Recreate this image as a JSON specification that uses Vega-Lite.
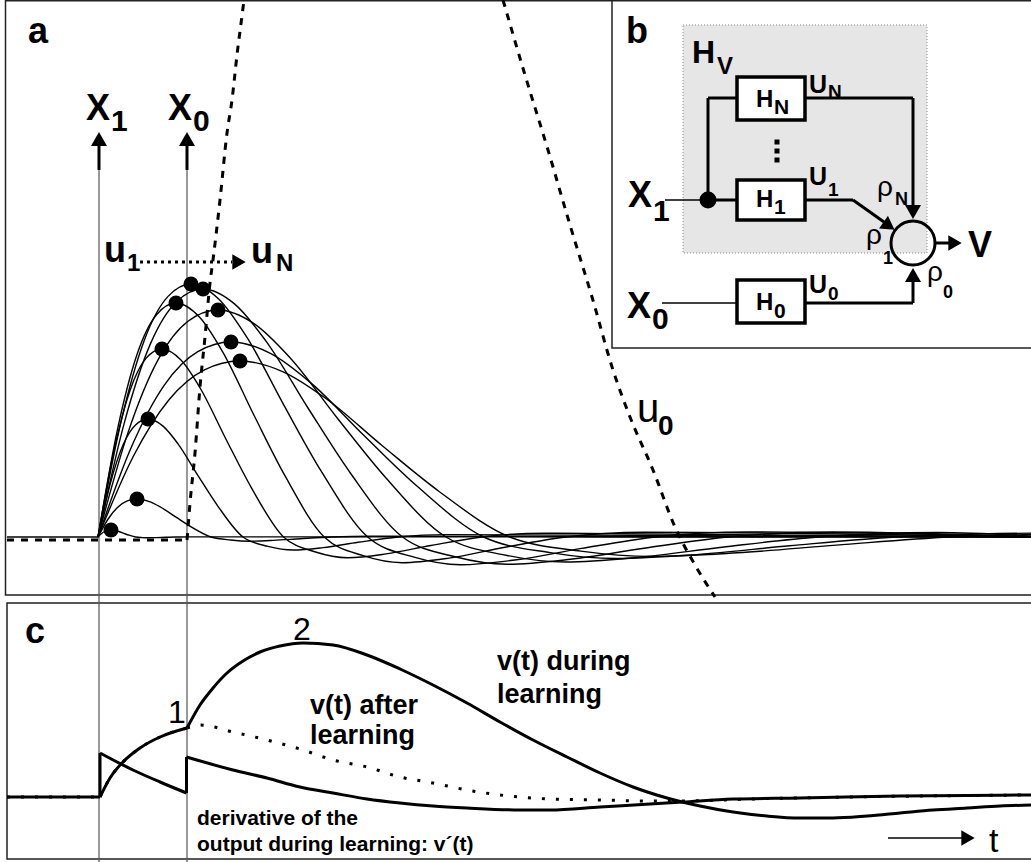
{
 "$schema": "https://vega.github.io/schema/vega-lite/v6.json",
 "width": 1031, "height": 862, "autosize": "none", "padding": 0,
 "background": "white",
 "config": {"view": {"stroke": null}, "text": {"font": "Liberation Sans"}},
 "datasets": {
  "frames": [{"x":5.5,"x2":1045,"y":0.8,"y2":595},{"x":7,"x2":1045,"y":603,"y2":859}],
  "panelb": [{"x":612,"x2":1045,"y":0.8,"y2":348}],
  "graybox": [{"x":683,"x2":927,"y":25,"y2":253}],
  "res": [
   {"id":1,"x":98,"y":537},{"id":1,"x":101.3,"y":533.8},{"id":1,"x":104.5,"y":531.5},{"id":1,"x":107.8,"y":530.4},{"id":1,"x":111,"y":530},{"id":1,"x":114.9,"y":530.4},{"id":1,"x":118.8,"y":531.5},{"id":1,"x":124,"y":533.4},{"id":1,"x":129.2,"y":535.2},{"id":1,"x":135.7,"y":537},{"id":1,"x":142.2,"y":537.6},{"id":1,"x":148.7,"y":537.8},{"id":1,"x":156.5,"y":537.6},{"id":1,"x":165.6,"y":537.3},{"id":1,"x":176,"y":537},{"id":1,"x":189,"y":536.9},{"id":1,"x":1031,"y":537},
   {"id":2,"x":98,"y":537},{"id":2,"x":107.8,"y":519.5},{"id":2,"x":117.5,"y":507.4},{"id":2,"x":127.3,"y":500.9},{"id":2,"x":137,"y":499},{"id":2,"x":148.7,"y":501.3},{"id":2,"x":160.4,"y":507},{"id":2,"x":176,"y":517.2},{"id":2,"x":191.6,"y":527.1},{"id":2,"x":211.1,"y":537},{"id":2,"x":230.6,"y":540},{"id":2,"x":250.1,"y":541.2},{"id":2,"x":273.5,"y":540.4},{"id":2,"x":300.8,"y":538.7},{"id":2,"x":332,"y":537},{"id":2,"x":371,"y":536.2},{"id":2,"x":1031,"y":537},
   {"id":3,"x":98,"y":537},{"id":3,"x":110.5,"y":482.7},{"id":3,"x":123,"y":445},{"id":3,"x":135.5,"y":424.9},{"id":3,"x":148,"y":419},{"id":3,"x":163,"y":426.1},{"id":3,"x":178,"y":443.8},{"id":3,"x":198,"y":475.6},{"id":3,"x":218,"y":506.3},{"id":3,"x":243,"y":537},{"id":3,"x":268,"y":546.4},{"id":3,"x":293,"y":550},{"id":3,"x":323,"y":547.6},{"id":3,"x":358,"y":542.3},{"id":3,"x":398,"y":537},{"id":3,"x":448,"y":534.6},{"id":3,"x":1031,"y":537},
   {"id":4,"x":98,"y":537},{"id":4,"x":114,"y":450.5},{"id":4,"x":130,"y":390.4},{"id":4,"x":146,"y":358.4},{"id":4,"x":162,"y":349},{"id":4,"x":181.2,"y":360.3},{"id":4,"x":200.4,"y":388.5},{"id":4,"x":226,"y":439.2},{"id":4,"x":251.6,"y":488.1},{"id":4,"x":283.6,"y":537},{"id":4,"x":315.6,"y":552},{"id":4,"x":347.6,"y":557.7},{"id":4,"x":386,"y":553.9},{"id":4,"x":430.8,"y":545.5},{"id":4,"x":482,"y":537},{"id":4,"x":546,"y":533.2},{"id":4,"x":1031,"y":537},
   {"id":5,"x":98,"y":537},{"id":5,"x":117.5,"y":429.4},{"id":5,"x":137,"y":354.5},{"id":5,"x":156.5,"y":314.7},{"id":5,"x":176,"y":303},{"id":5,"x":199.4,"y":317},{"id":5,"x":222.8,"y":352.1},{"id":5,"x":254,"y":415.3},{"id":5,"x":285.2,"y":476.2},{"id":5,"x":324.2,"y":537},{"id":5,"x":363.2,"y":555.7},{"id":5,"x":402.2,"y":562.7},{"id":5,"x":449,"y":558.1},{"id":5,"x":503.6,"y":547.5},{"id":5,"x":566,"y":537},{"id":5,"x":644,"y":532.3},{"id":5,"x":1031,"y":537},
   {"id":6,"x":98,"y":537},{"id":6,"x":121.3,"y":420.6},{"id":6,"x":144.5,"y":339.7},{"id":6,"x":167.8,"y":296.6},{"id":6,"x":191,"y":284},{"id":6,"x":218.9,"y":299.2},{"id":6,"x":246.8,"y":337.1},{"id":6,"x":284,"y":405.4},{"id":6,"x":321.2,"y":471.2},{"id":6,"x":367.7,"y":537},{"id":6,"x":414.2,"y":557.2},{"id":6,"x":460.7,"y":564.8},{"id":6,"x":516.5,"y":559.8},{"id":6,"x":581.6,"y":548.4},{"id":6,"x":656,"y":537},{"id":6,"x":749,"y":531.9},{"id":6,"x":1031,"y":537},
   {"id":7,"x":98,"y":537},{"id":7,"x":124.3,"y":422.9},{"id":7,"x":150.5,"y":343.6},{"id":7,"x":176.8,"y":301.4},{"id":7,"x":203,"y":289},{"id":7,"x":234.5,"y":303.9},{"id":7,"x":266,"y":341.1},{"id":7,"x":308,"y":408},{"id":7,"x":350,"y":472.5},{"id":7,"x":402.5,"y":537},{"id":7,"x":455,"y":556.8},{"id":7,"x":507.5,"y":564.3},{"id":7,"x":570.5,"y":559.3},{"id":7,"x":644,"y":548.2},{"id":7,"x":728,"y":537},{"id":7,"x":833,"y":532},{"id":7,"x":1031,"y":537},
   {"id":8,"x":98,"y":537},{"id":8,"x":128,"y":432.6},{"id":8,"x":158,"y":359.9},{"id":8,"x":188,"y":321.3},{"id":8,"x":218,"y":310},{"id":8,"x":254,"y":323.6},{"id":8,"x":290,"y":357.7},{"id":8,"x":338,"y":419},{"id":8,"x":386,"y":478},{"id":8,"x":446,"y":537},{"id":8,"x":506,"y":555.2},{"id":8,"x":566,"y":562},{"id":8,"x":638,"y":557.4},{"id":8,"x":722,"y":547.2},{"id":8,"x":818,"y":537},{"id":8,"x":938,"y":532.5},{"id":8,"x":1031,"y":536},
   {"id":9,"x":98,"y":537},{"id":9,"x":131.3,"y":447.3},{"id":9,"x":164.5,"y":384.9},{"id":9,"x":197.8,"y":351.7},{"id":9,"x":231,"y":342},{"id":9,"x":270.9,"y":353.7},{"id":9,"x":310.8,"y":382.9},{"id":9,"x":364,"y":435.6},{"id":9,"x":417.2,"y":486.3},{"id":9,"x":483.7,"y":537},{"id":9,"x":550.2,"y":552.6},{"id":9,"x":616.7,"y":558.5},{"id":9,"x":696.5,"y":554.6},{"id":9,"x":789.6,"y":545.8},{"id":9,"x":896,"y":537},{"id":9,"x":1031,"y":533.1},
   {"id":10,"x":98,"y":537},{"id":10,"x":133.5,"y":456},{"id":10,"x":169,"y":399.7},{"id":10,"x":204.5,"y":369.8},{"id":10,"x":240,"y":361},{"id":10,"x":282.6,"y":371.6},{"id":10,"x":325.2,"y":398},{"id":10,"x":382,"y":445.5},{"id":10,"x":438.8,"y":491.2},{"id":10,"x":509.8,"y":537},{"id":10,"x":580.8,"y":551.1},{"id":10,"x":651.8,"y":556.4},{"id":10,"x":737,"y":552.8},{"id":10,"x":836.4,"y":545.1},{"id":10,"x":950,"y":537},{"id":10,"x":1031,"y":534.5}
  ],
  "dots": [{"x":111,"y":530},{"x":137,"y":499},{"x":148,"y":419},{"x":162,"y":349},{"x":176,"y":303},{"x":191,"y":284},{"x":203,"y":289},{"x":218,"y":310},{"x":231,"y":342},{"x":240,"y":361}],
  "u0": [
   {"seg":"a","x":7,"y":540},{"seg":"a","x":187,"y":540},
   {"seg":"b","x":187,"y":540},{"seg":"b","x":187.6,"y":533},{"seg":"b","x":190,"y":503},{"seg":"b","x":195,"y":453},{"seg":"b","x":200,"y":387},{"seg":"b","x":205,"y":337},{"seg":"b","x":210,"y":283},{"seg":"b","x":213,"y":260},{"seg":"b","x":220,"y":200},{"seg":"b","x":227,"y":133},{"seg":"b","x":232,"y":100},{"seg":"b","x":237,"y":55},{"seg":"b","x":243,"y":8},{"seg":"b","x":244,"y":0},
   {"seg":"c","x":503,"y":0},{"seg":"c","x":525,"y":75},{"seg":"c","x":548,"y":150},{"seg":"c","x":570,"y":225},{"seg":"c","x":592,"y":297},{"seg":"c","x":613,"y":370},{"seg":"c","x":630,"y":417},{"seg":"c","x":653,"y":470},{"seg":"c","x":675,"y":527},{"seg":"c","x":695,"y":565},{"seg":"c","x":715,"y":597}
  ],
  "thinrules": [{"x":99,"y":170,"x2":99,"y2":862},{"x":187,"y":170,"x2":187,"y2":862}],
  "thickrules": [
   {"x":99,"y":145,"x2":99,"y2":170},{"x":187,"y":145,"x2":187,"y2":170},
   {"x":100,"y":797,"x2":100,"y2":753},{"x":186.5,"y":793,"x2":186.5,"y2":757},
   {"x":708,"y":200,"x2":737,"y2":200},{"x":708,"y":200,"x2":708,"y2":98},{"x":708,"y":98,"x2":737,"y2":98},
   {"x":805,"y":98,"x2":913,"y2":98},{"x":913,"y":98,"x2":913,"y2":207},
   {"x":805,"y":200,"x2":853,"y2":200},{"x":853,"y":200,"x2":884,"y2":222},
   {"x":805,"y":303,"x2":913,"y2":303},{"x":913,"y":303,"x2":913,"y2":279},
   {"x":935,"y":243,"x2":950,"y2":243}
  ],
  "wires": [{"x":665,"y":200,"x2":708,"y2":200},{"x":662,"y":303,"x2":737,"y2":303},{"x":888,"y":838,"x2":962,"y2":838},{"x":7,"y":537,"x2":98,"y2":537}],
  "dotarrow": [{"x":140,"y":262,"x2":232,"y2":262}],
  "triUp": [{"x":99,"y":139},{"x":187,"y":139},{"x":913,"y":275}],
  "triDown": [{"x":913,"y":212}],
  "triRight": [{"x":239,"y":262},{"x":955,"y":243},{"x":968,"y":838}],
  "triDiag": [{"x":889,"y":226}],
  "boxes": [{"x":737,"x2":805,"y":77,"y2":120},{"x":737,"x2":805,"y":180,"y2":220},{"x":737,"x2":805,"y":280,"y2":323}],
  "circle": [{"x":913,"y":243}],
  "junction": [{"x":708,"y":200}],
  "vdots": [{"x":777,"y":142},{"x":777,"y":151},{"x":777,"y":160}],
  "solidc": [
   {"seg":"a","x":7,"y":797},{"seg":"a","x":100,"y":797},
   {"seg":"b","x":100,"y":797},{"seg":"b","x":110,"y":778},{"seg":"b","x":123,"y":762},{"seg":"b","x":140,"y":748},{"seg":"b","x":160,"y":737},{"seg":"b","x":187,"y":728},
   {"seg":"c","x":187,"y":728},{"seg":"c","x":200,"y":705},{"seg":"c","x":213,"y":688},{"seg":"c","x":227,"y":673},{"seg":"c","x":243,"y":661},{"seg":"c","x":260,"y":652},{"seg":"c","x":280,"y":646},{"seg":"c","x":303,"y":643},{"seg":"c","x":333,"y":645},{"seg":"c","x":367,"y":655},{"seg":"c","x":400,"y":669},{"seg":"c","x":433,"y":685},{"seg":"c","x":467,"y":703},{"seg":"c","x":500,"y":722},{"seg":"c","x":533,"y":740},{"seg":"c","x":567,"y":757},{"seg":"c","x":600,"y":773},{"seg":"c","x":633,"y":787},{"seg":"c","x":667,"y":798},{"seg":"c","x":700,"y":806},{"seg":"c","x":733,"y":812},{"seg":"c","x":767,"y":816},{"seg":"c","x":800,"y":818},{"seg":"c","x":833,"y":818},{"seg":"c","x":867,"y":816},{"seg":"c","x":900,"y":813},{"seg":"c","x":933,"y":810},{"seg":"c","x":967,"y":808},{"seg":"c","x":1000,"y":806},{"seg":"c","x":1031,"y":805},
   {"seg":"d","x":100,"y":753},{"seg":"d","x":133,"y":770},{"seg":"d","x":160,"y":782},{"seg":"d","x":186.5,"y":793},
   {"seg":"e","x":186.5,"y":757},{"seg":"e","x":233,"y":770},{"seg":"e","x":267,"y":778},{"seg":"e","x":300,"y":787},{"seg":"e","x":333,"y":793},{"seg":"e","x":367,"y":799},{"seg":"e","x":400,"y":803},{"seg":"e","x":433,"y":806},{"seg":"e","x":467,"y":808},{"seg":"e","x":520,"y":810},{"seg":"e","x":550,"y":810},{"seg":"e","x":600,"y":807},{"seg":"e","x":650,"y":804},{"seg":"e","x":683,"y":802},{"seg":"e","x":733,"y":799},{"seg":"e","x":800,"y":798},{"seg":"e","x":900,"y":796},{"seg":"e","x":1031,"y":795}
  ],
  "dottedc": [
   {"seg":"a","x":7,"y":797},{"seg":"a","x":100,"y":797},
   {"seg":"b","x":100,"y":797},{"seg":"b","x":110,"y":778},{"seg":"b","x":123,"y":762},{"seg":"b","x":140,"y":748},{"seg":"b","x":160,"y":737},{"seg":"b","x":187,"y":728},
   {"seg":"c","x":187,"y":728},{"seg":"c","x":200,"y":725},{"seg":"c","x":233,"y":732},{"seg":"c","x":267,"y":740},{"seg":"c","x":300,"y":749},{"seg":"c","x":333,"y":760},{"seg":"c","x":367,"y":767},{"seg":"c","x":400,"y":777},{"seg":"c","x":433,"y":783},{"seg":"c","x":467,"y":790},{"seg":"c","x":500,"y":795},{"seg":"c","x":550,"y":799},{"seg":"c","x":600,"y":800},{"seg":"c","x":650,"y":801},{"seg":"c","x":683,"y":801},{"seg":"c","x":750,"y":799},{"seg":"c","x":850,"y":797},{"seg":"c","x":1031,"y":795}
  ],
  "tLetters": [{"x":28,"y":43,"t":"a"},{"x":626,"y":43,"t":"b"},{"x":25,"y":643,"t":"c"}],
  "tBigBold": [{"x":86,"y":120,"t":"X"},{"x":168,"y":120,"t":"X"},{"x":628,"y":207,"t":"X"},{"x":627,"y":318,"t":"X"},{"x":968,"y":257,"t":"V"},{"x":104,"y":262,"t":"u"},{"x":251,"y":263,"t":"u"}],
  "tSubX": [{"x":111,"y":131,"t":"1"},{"x":193,"y":131,"t":"0"},{"x":653,"y":221,"t":"1"},{"x":652,"y":329,"t":"0"}],
  "tSubU": [{"x":127,"y":271,"t":"1"},{"x":276,"y":271,"t":"N"}],
  "tU0": [{"x":637,"y":422,"t":"u"}],
  "tU0sub": [{"x":658,"y":435,"t":"0"}],
  "tHV": [{"x":692,"y":63,"t":"H"}],
  "tHVsub": [{"x":717,"y":74,"t":"V"}],
  "tBoxH": [{"x":756,"y":107,"t":"H"},{"x":756,"y":207,"t":"H"},{"x":756,"y":310,"t":"H"}],
  "tBoxSub": [{"x":774,"y":114,"t":"N"},{"x":774,"y":214,"t":"1"},{"x":774,"y":318,"t":"0"}],
  "tUb": [{"x":809,"y":93,"t":"U"},{"x":809,"y":185,"t":"U"},{"x":809,"y":293,"t":"U"}],
  "tUbSub": [{"x":828,"y":98,"t":"N"},{"x":828,"y":196,"t":"1"},{"x":828,"y":300,"t":"0"}],
  "tRho": [{"x":877,"y":196,"t":"ρ"},{"x":866,"y":244,"t":"ρ"},{"x":927,"y":281,"t":"ρ"}],
  "tRhoSub": [{"x":895,"y":205,"t":"N"},{"x":883,"y":264,"t":"1"},{"x":943,"y":298,"t":"0"}],
  "tNum": [{"x":293,"y":640,"t":"2"},{"x":168,"y":723,"t":"1"}],
  "tMid": [{"x":310,"y":714,"t":"v(t) after"},{"x":310,"y":744,"t":"learning"},{"x":497,"y":670,"t":"v(t) during"},{"x":497,"y":703,"t":"learning"}],
  "tSmall": [{"x":197,"y":825,"t":"derivative of the"},{"x":197,"y":851,"t":"output during learning: v´(t)"}],
  "tT": [{"x":989,"y":852,"t":"t"}]
 },
 "encoding": {
  "x": {"field":"x","type":"quantitative","scale":{"domain":[0,1031],"nice":false,"zero":false},"axis":null},
  "y": {"field":"y","type":"quantitative","scale":{"domain":[0,862],"reverse":true,"nice":false,"zero":false},"axis":null}
 },
 "layer": [
  {"data":{"name":"frames"},"mark":{"type":"rect","fill":null,"fillOpacity":0,"stroke":"#222","strokeWidth":1.5},"encoding":{"x2":{"field":"x2"},"y2":{"field":"y2"}}},
  {"data":{"name":"panelb"},"mark":{"type":"rect","fill":"white","stroke":"#222","strokeWidth":1.5},"encoding":{"x2":{"field":"x2"},"y2":{"field":"y2"}}},
  {"data":{"name":"graybox"},"mark":{"type":"rect","fill":"#e6e6e6","stroke":"#888","strokeWidth":1,"strokeDash":[1,2]},"encoding":{"x2":{"field":"x2"},"y2":{"field":"y2"}}},
  {"data":{"name":"thinrules"},"mark":{"type":"rule","color":"#555","strokeWidth":1.2},"encoding":{"x2":{"field":"x2"},"y2":{"field":"y2"}}},
  {"data":{"name":"res"},"mark":{"type":"line","color":"black","strokeWidth":1.4,"interpolate":"monotone"},"encoding":{"detail":{"field":"id","type":"nominal"}}},
  {"data":{"name":"u0"},"mark":{"type":"line","color":"black","strokeWidth":3,"strokeDash":[7,7],"interpolate":"monotone"},"encoding":{"detail":{"field":"seg","type":"nominal"}}},
  {"data":{"name":"dots"},"mark":{"type":"point","shape":"circle","filled":true,"color":"black","opacity":1,"size":225}},
  {"data":{"name":"wires"},"mark":{"type":"rule","color":"black","strokeWidth":1.6},"encoding":{"x2":{"field":"x2"},"y2":{"field":"y2"}}},
  {"data":{"name":"thickrules"},"mark":{"type":"rule","color":"black","strokeWidth":3},"encoding":{"x2":{"field":"x2"},"y2":{"field":"y2"}}},
  {"data":{"name":"dotarrow"},"mark":{"type":"rule","color":"black","strokeWidth":3,"strokeDash":[3,4]},"encoding":{"x2":{"field":"x2"},"y2":{"field":"y2"}}},
  {"data":{"name":"triUp"},"mark":{"type":"point","shape":"triangle-up","filled":true,"color":"black","opacity":1,"size":256}},
  {"data":{"name":"triDown"},"mark":{"type":"point","shape":"triangle-down","filled":true,"color":"black","opacity":1,"size":256}},
  {"data":{"name":"triRight"},"mark":{"type":"point","shape":"triangle-right","filled":true,"color":"black","opacity":1,"size":240}},
  {"data":{"name":"triDiag"},"mark":{"type":"point","shape":"triangle-right","angle":35,"filled":true,"color":"black","opacity":1,"size":240}},
  {"data":{"name":"boxes"},"mark":{"type":"rect","fill":"white","stroke":"black","strokeWidth":3.5},"encoding":{"x2":{"field":"x2"},"y2":{"field":"y2"}}},
  {"data":{"name":"circle"},"mark":{"type":"point","shape":"circle","filled":false,"stroke":"black","strokeWidth":3,"opacity":1,"size":1936}},
  {"data":{"name":"junction"},"mark":{"type":"point","shape":"circle","filled":true,"color":"black","opacity":1,"size":289}},
  {"data":{"name":"vdots"},"mark":{"type":"point","shape":"square","filled":true,"color":"black","opacity":1,"size":25}},
  {"data":{"name":"solidc"},"mark":{"type":"line","color":"black","strokeWidth":3,"interpolate":"monotone"},"encoding":{"detail":{"field":"seg","type":"nominal"}}},
  {"data":{"name":"dottedc"},"mark":{"type":"line","color":"black","strokeWidth":3,"strokeDash":[3,11],"interpolate":"monotone"},"encoding":{"detail":{"field":"seg","type":"nominal"}}},
  {"data":{"name":"tLetters"},"mark":{"type":"text","align":"left","baseline":"alphabetic","fontSize":36,"fontWeight":"bold"},"encoding":{"text":{"field":"t"}}},
  {"data":{"name":"tBigBold"},"mark":{"type":"text","align":"left","baseline":"alphabetic","fontSize":36,"fontWeight":"bold"},"encoding":{"text":{"field":"t"}}},
  {"data":{"name":"tSubX"},"mark":{"type":"text","align":"left","baseline":"alphabetic","fontSize":30,"fontWeight":"bold"},"encoding":{"text":{"field":"t"}}},
  {"data":{"name":"tSubU"},"mark":{"type":"text","align":"left","baseline":"alphabetic","fontSize":24,"fontWeight":"bold"},"encoding":{"text":{"field":"t"}}},
  {"data":{"name":"tU0"},"mark":{"type":"text","align":"left","baseline":"alphabetic","fontSize":40},"encoding":{"text":{"field":"t"}}},
  {"data":{"name":"tU0sub"},"mark":{"type":"text","align":"left","baseline":"alphabetic","fontSize":28,"fontWeight":"bold"},"encoding":{"text":{"field":"t"}}},
  {"data":{"name":"tHV"},"mark":{"type":"text","align":"left","baseline":"alphabetic","fontSize":32,"fontWeight":"bold"},"encoding":{"text":{"field":"t"}}},
  {"data":{"name":"tHVsub"},"mark":{"type":"text","align":"left","baseline":"alphabetic","fontSize":24,"fontWeight":"bold"},"encoding":{"text":{"field":"t"}}},
  {"data":{"name":"tBoxH"},"mark":{"type":"text","align":"left","baseline":"alphabetic","fontSize":24,"fontWeight":"bold"},"encoding":{"text":{"field":"t"}}},
  {"data":{"name":"tBoxSub"},"mark":{"type":"text","align":"left","baseline":"alphabetic","fontSize":21,"fontWeight":"bold"},"encoding":{"text":{"field":"t"}}},
  {"data":{"name":"tUb"},"mark":{"type":"text","align":"left","baseline":"alphabetic","fontSize":25,"fontWeight":"bold"},"encoding":{"text":{"field":"t"}}},
  {"data":{"name":"tUbSub"},"mark":{"type":"text","align":"left","baseline":"alphabetic","fontSize":19,"fontWeight":"bold"},"encoding":{"text":{"field":"t"}}},
  {"data":{"name":"tRho"},"mark":{"type":"text","align":"left","baseline":"alphabetic","fontSize":28},"encoding":{"text":{"field":"t"}}},
  {"data":{"name":"tRhoSub"},"mark":{"type":"text","align":"left","baseline":"alphabetic","fontSize":18,"fontWeight":"bold"},"encoding":{"text":{"field":"t"}}},
  {"data":{"name":"tNum"},"mark":{"type":"text","align":"left","baseline":"alphabetic","fontSize":32},"encoding":{"text":{"field":"t"}}},
  {"data":{"name":"tMid"},"mark":{"type":"text","align":"left","baseline":"alphabetic","fontSize":27,"fontWeight":"bold"},"encoding":{"text":{"field":"t"}}},
  {"data":{"name":"tSmall"},"mark":{"type":"text","align":"left","baseline":"alphabetic","fontSize":21,"fontWeight":"bold"},"encoding":{"text":{"field":"t"}}},
  {"data":{"name":"tT"},"mark":{"type":"text","align":"left","baseline":"alphabetic","fontSize":34},"encoding":{"text":{"field":"t"}}}
 ]
}
